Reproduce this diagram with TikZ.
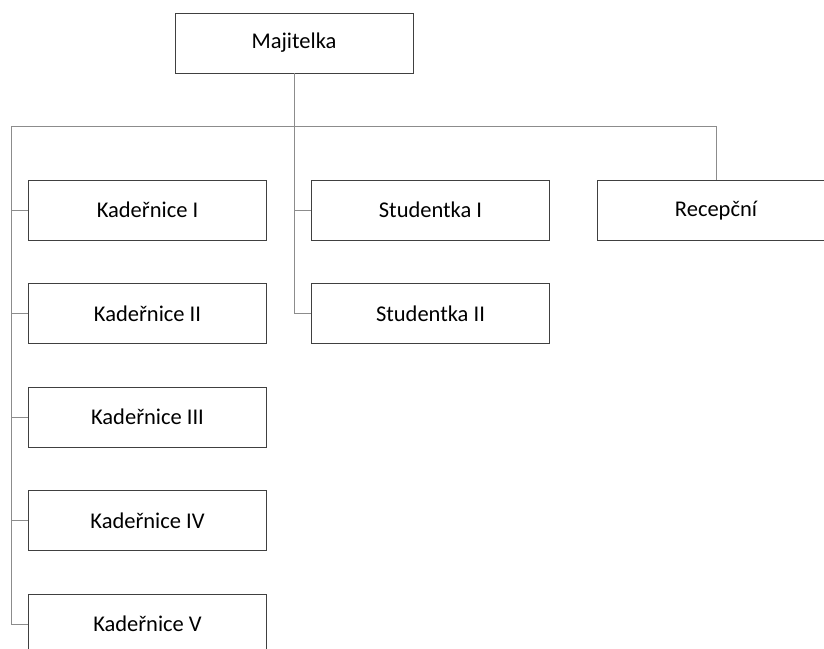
\documentclass[tikz,border=0pt]{standalone}
\usepackage{fontspec}
\setmainfont{Carlito}
\begin{document}
\begin{tikzpicture}[x=1pt,y=-1pt,
  box/.style={draw=black!75, line width=0.9pt, fill=white, minimum width=238pt, minimum height=60pt, inner sep=0pt, font=\fontsize{22.5}{27}\selectfont},
  conn/.style={draw=black!45, line width=1pt}]
\useasboundingbox (0,0) rectangle (824,648);
\clip (0,0) rectangle (824,648);
\node[box] (maj) at (294,43) {Majitelka};
\coordinate (bus) at (294,126);
\coordinate (busL) at (11,126);
\coordinate (busR) at (716,126);
\node[box] (k1) at (147.5,210) {Kadeřnice I};
\node[box] (k2) at (147.5,313.5) {Kadeřnice II};
\node[box] (k3) at (147.5,417) {Kadeřnice III};
\node[box] (k4) at (147.5,520.5) {Kadeřnice IV};
\node[box] (k5) at (147.5,624) {Kadeřnice V};
\node[box] (s1) at (430.5,210) {Studentka I};
\node[box] (s2) at (430.5,313.5) {Studentka II};
\node[box] (r) at (716,210.5) {Recepční};
\draw[conn] (maj.south) -- (bus);
\draw[conn] (busL) -- (busR);
\draw[conn] (busR) -- (r.north);
\draw[conn] (busL) |- (k5.west);
\foreach \n in {k1,k2,k3,k4} \draw[conn] (k5.west -| busL) |- (\n.west);
\draw[conn] (bus) |- (s2.west);
\draw[conn] (bus) |- (s1.west);
\end{tikzpicture}
\end{document}
